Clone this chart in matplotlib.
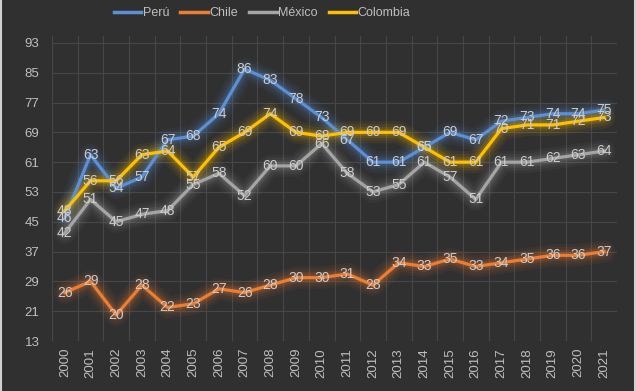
import matplotlib.pyplot as plt
import numpy as np
from matplotlib.lines import Line2D

years = [str(y) for y in range(2000, 2022)]
peru = [46, 63, 54, 57, 67, 68, 74, 86, 83, 78, 73, 67, 61, 61, 65, 69, 67, 72, 73, 74, 74, 75]
chile = [26, 29, 20, 28, 22, 23, 27, 26, 28, 30, 30, 31, 28, 34, 33, 35, 33, 34, 35, 36, 36, 37]
mexico = [42, 51, 45, 47, 48, 55, 58, 52, 60, 60, 66, 58, 53, 55, 61, 57, 51, 61, 61, 62, 63, 64]
colombia = [48, 56, 56, 63, 64, 57, 65, 69, 74, 69, 68, 69, 69, 69, 65, 61, 61, 70, 71, 71, 72, 73]

series = [
    ("Perú", peru, "#5b8fd6"),
    ("Chile", chile, "#ed7d31"),
    ("México", mexico, "#a5a5a5"),
    ("Colombia", colombia, "#ffc000"),
]

bg = "#303030"
plt.rcParams['font.family'] = ['Liberation Sans', 'DejaVu Sans']

fig = plt.figure(figsize=(6.36, 3.91), dpi=100, facecolor=bg)
ax = fig.add_axes([52 / 636, 1 - 341 / 391, 565 / 636, 305.5 / 391])
ax.set_facecolor(bg)

x = np.arange(len(years))

# glow first, then the lines on top
for name, vals, col in series:
    for lw, a in [(16, 0.06), (12, 0.08), (8, 0.12), (5, 0.15)]:
        ax.plot(x, vals, color=col, lw=lw, alpha=a, solid_capstyle='round',
                solid_joinstyle='round', zorder=2)
for name, vals, col in series:
    ax.plot(x, vals, color=col, lw=2.3, solid_joinstyle='round', zorder=3, label=name)

# data labels centred on points
for name, vals, col in series:
    for xi, v in zip(x, vals):
        ax.text(xi, v, str(v), ha='center', va='center', fontsize=10,
                color='#cccccc', zorder=5)

ax.set_xlim(-0.5, len(years) - 0.5)
ax.set_ylim(13, 95)
ax.set_yticks(np.arange(13, 94, 8))
ax.set_xticks(x)
ax.set_xticklabels(years, rotation=90)
ax.set_xticks(np.arange(-0.5, len(years), 1), minor=True)

ax.grid(True, axis='y', which='major', color='#474747', lw=0.8, zorder=0)
ax.grid(True, axis='x', which='minor', color='#474747', lw=0.8, zorder=0)
ax.grid(False, axis='x', which='major')
ax.tick_params(axis='both', which='both', length=0, colors='#bfbfbf', labelsize=9.5)
ax.tick_params(axis='y', pad=9)
ax.tick_params(axis='x', pad=5)
for s in ax.spines.values():
    s.set_visible(False)

handles = [Line2D([], [], color=col, lw=2.5) for _, _, col in series]
leg = fig.legend(handles, [s[0] for s in series], loc='center',
                 bbox_to_anchor=(262 / 636, 1 - 13 / 391), ncol=4, frameon=False,
                 handlelength=2.2, handletextpad=0.1, columnspacing=0.9,
                 prop={'size': 9})
for t in leg.get_texts():
    t.set_color('#bfbfbf')

# light edge strips as in the screenshot
fig.add_artist(Line2D([1 / 636, 1 / 636], [0, 1], color='#d0d0d0', lw=1.5, transform=fig.transFigure))
fig.add_artist(Line2D([635 / 636, 635 / 636], [0, 1], color='#d0d0d0', lw=1.5, transform=fig.transFigure))

fig.savefig('out.png', dpi=100, facecolor=bg)
